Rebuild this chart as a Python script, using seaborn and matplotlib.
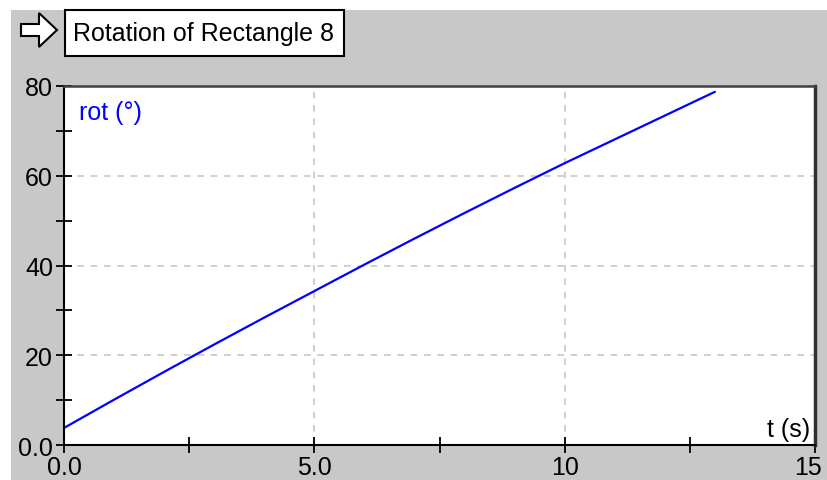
import matplotlib
matplotlib.use("Agg")
import matplotlib.pyplot as plt
import matplotlib.transforms as mtransforms
from matplotlib.patches import Polygon, Rectangle
from matplotlib.ticker import FixedLocator, FixedFormatter
import seaborn as sns
import pandas as pd

# data
t_values = [0, 1, 2, 3, 4, 5, 6, 7, 8, 9, 10, 11, 12, 13]
rot_values = [3.8, 10.1, 16.3, 22.4, 28.4, 34.3, 40.2, 46.0, 51.7, 57.3, 62.8, 68.1, 73.4, 78.7]
x_major = [0, 5, 10, 15]
x_major_labels = ["0.0", "5.0", "10", "15"]
x_minor = [2.5, 7.5, 12.5]
y_major = [0, 20, 40, 60, 80]
y_major_labels = ["0.0", "20", "40", "60", "80"]
y_minor = [10, 30, 50, 70]
title = "Rotation of Rectangle 8"
series_label = "rot (°)"
x_label = "t (s)"

sns.set_style("white")
plt.rcParams["font.family"] = ["Liberation Sans", "DejaVu Sans"]

bg = "#C8C8C8"
fig = plt.figure(figsize=(8.27, 4.81), dpi=100, facecolor=bg)
W, H = 827, 481


def px(x, y):
    return (x / W, 1 - y / H)


# white margins at top and left
fig.patches.append(Rectangle((0, 0), 11 / W, 1, transform=fig.transFigure,
                             facecolor="white", edgecolor="none", zorder=-5))
fig.patches.append(Rectangle(px(0, 11), 1, 11 / H, transform=fig.transFigure,
                             facecolor="white", edgecolor="none", zorder=-5))

ax = fig.add_axes([64 / W, 1 - 446 / H, (815 - 64) / W, (446 - 87) / H])
ax.set_facecolor("white")

df = pd.DataFrame({"t": t_values, "rot": rot_values})
sns.lineplot(data=df, x="t", y="rot", ax=ax, color="#0000FF", linewidth=1.6)

ax.set_xlim(0, 15)
ax.set_ylim(0, 80)
ax.xaxis.set_major_locator(FixedLocator(x_major))
ax.xaxis.set_major_formatter(FixedFormatter(x_major_labels))
ax.xaxis.set_minor_locator(FixedLocator(x_minor))
ax.yaxis.set_major_locator(FixedLocator(y_major))
ax.yaxis.set_major_formatter(FixedFormatter(y_major_labels))
ax.yaxis.set_minor_locator(FixedLocator(y_minor))

ax.tick_params(axis="both", which="both", direction="inout", color="black",
               width=1.3, length=12, labelsize=18, labelcolor="black",
               bottom=True, left=True, top=False, right=False)
ax.tick_params(axis="x", which="major", pad=1)
ax.tick_params(axis="y", which="major", pad=2)
ax.grid(True, which="major", linestyle=(0, (4, 4)), color="#C8C8C8", linewidth=1.2)
ax.set_xlabel("")
ax.set_ylabel("")

# keep the last x label inside the figure, as in the reference
fig.canvas.draw()
last_lbl = ax.get_xticklabels()[-1]
last_lbl.set_transform(last_lbl.get_transform() +
                       mtransforms.ScaledTranslation(-7 / 100, 0, fig.dpi_scale_trans))

for side in ["left", "bottom"]:
    ax.spines[side].set_color("black")
    ax.spines[side].set_linewidth(1.5)
ax.spines["top"].set_color("#404040")
ax.spines["top"].set_linewidth(1.8)
ax.spines["right"].set_color("#303030")
ax.spines["right"].set_linewidth(2.5)

ax.text(0.02, 0.96, series_label, transform=ax.transAxes, color="#0000FF",
        fontsize=18, ha="left", va="top")
ax.text(0.993, 0.01, x_label, transform=ax.transAxes, color="black",
        fontsize=18, ha="right", va="bottom")

# title box
box = Rectangle(px(65, 57), (344 - 65) / W, (57 - 11) / H, transform=fig.transFigure,
                facecolor="white", edgecolor="black", linewidth=1.5)
fig.patches.append(box)
fig.text(73 / W, 1 - 34 / H, title, fontsize=18, ha="left", va="center", color="black")

arrow_pts = [px(21, 25), px(39, 25), px(39, 14), px(57, 31), px(39, 48), px(39, 37), px(21, 37)]
arrow = Polygon(arrow_pts, closed=True, transform=fig.transFigure,
                facecolor="white", edgecolor="black", linewidth=1.5)
fig.patches.append(arrow)

fig.savefig("out.png", dpi=100, facecolor=bg)
